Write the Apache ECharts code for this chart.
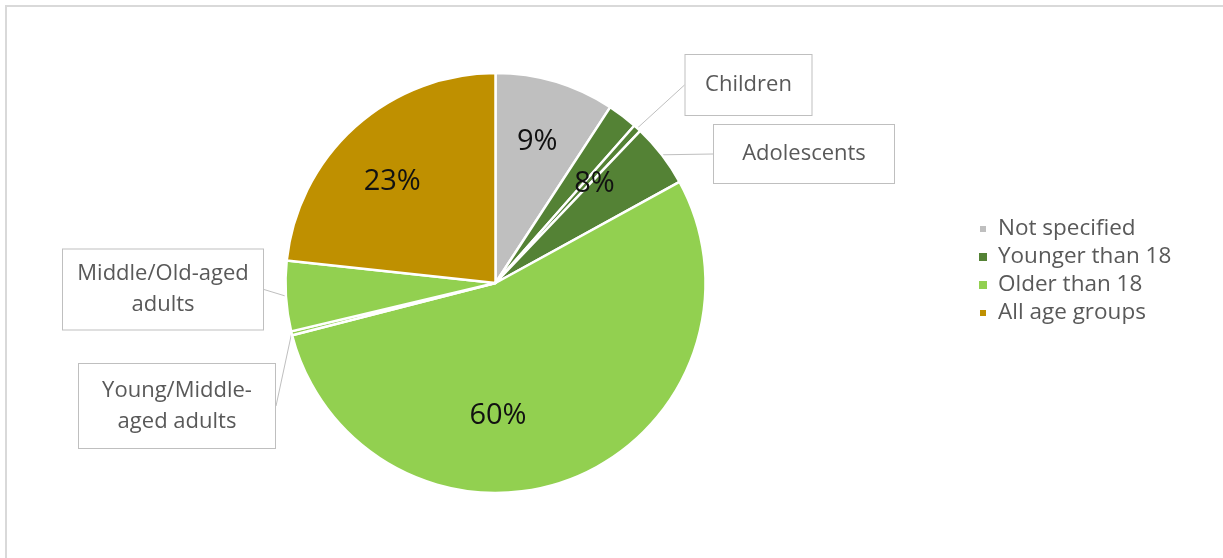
<!DOCTYPE html>
<html>
<head>
<meta charset="utf-8">
<script src="https://cdn.jsdelivr.net/npm/echarts@6/dist/echarts.min.js"></script>
<style>
  html, body { margin: 0; padding: 0; background: #fff; }
  #chart { width: 1223px; height: 558px; }
</style>
</head>
<body>
<div id="chart"></div>
<script>
// ---- data ----
const groupNames = ['Not specified', 'Younger than 18', 'Older than 18', 'All age groups'];
const subNames = ['Not specified', 'Younger than 18 (unspecified)', 'Children', 'Adolescents',
                  'Older than 18 (unspecified)', 'Young/Middle-aged adults', 'Middle/Old-aged adults', 'All age groups'];
const subValues = [9.2, 2.3, 0.6, 4.9, 54.0, 0.3, 5.4, 23.3];
const subGroup = [0, 1, 1, 1, 2, 2, 2, 3];
const calloutNames = ['Children', 'Adolescents', 'Middle/Old-aged adults', 'Young/Middle-aged adults'];
const calloutTexts = ['Children', 'Adolescents', 'Middle/Old-aged\nadults', 'Young/Middle-\naged adults'];

// ---- styles ----
const groupColors = ['#BFBFBF', '#548235', '#92D050', '#BF9000'];
const FONT = "'Open Sans', 'Noto Sans', sans-serif";
const calloutStyle = {
  'Children':                 { x: 748.5, y: 85,    width: 126, pad: 17 },
  'Adolescents':              { x: 804,   y: 154,   width: 180, pad: 16 },
  'Middle/Old-aged adults':   { x: 163,   y: 289.5, width: 200, pad: 9 },
  'Young/Middle-aged adults': { x: 177,   y: 406,   width: 196, pad: 11 }
};
const groupLabelOffset = {
  'Not specified': [-1, 3],
  'Younger than 18': [-11, 3],
  'Older than 18': [-27, -14],
  'All age groups': [-3, 10]
};

const groupValues = groupNames.map((_, g) =>
  subValues.reduce((s, v, i) => s + (subGroup[i] === g ? v : 0), 0));

const CENTER = [495.5, 283];
const R = 210;

const subData = subNames.map((n, i) => {
  const ci = calloutNames.indexOf(n);
  const item = {
    name: n,
    value: subValues[i],
    itemStyle: { color: groupColors[subGroup[i]] }
  };
  if (ci >= 0) {
    const cs = calloutStyle[n];
    item.label = {
      show: true,
      formatter: calloutTexts[ci],
      width: cs.width,
      padding: [cs.pad, 0],
      lineHeight: ci >= 2 ? 31 : 26
    };
    item.labelLine = { show: true };
  } else {
    item.label = { show: false };
    item.labelLine = { show: false };
  }
  return item;
});

const groupData = groupNames.map((n, i) => {
  const item = {
    name: n,
    value: groupValues[i],
    itemStyle: { color: 'rgba(0,0,0,0)' }
  };
  if (groupLabelOffset[n]) item.label = { offset: groupLabelOffset[n] };
  return item;
});

const chart = echarts.init(document.getElementById('chart'), null, { renderer: 'canvas' });
chart.setOption({
  backgroundColor: '#fff',
  animation: false,
  graphic: [{
    type: 'rect',
    shape: { x: 6, y: 6, width: 1400, height: 800 },
    style: { fill: 'none', stroke: '#D9D9D9', lineWidth: 2 },
    silent: true,
    z: -10
  }],
  legend: {
    orient: 'vertical',
    left: 973,
    top: 212,
    icon: 'rect',
    itemWidth: 8,
    itemHeight: 8,
    itemGap: 4,
    selectedMode: false,
    textStyle: { fontFamily: FONT, fontSize: 22.5, color: '#595959', lineHeight: 24, padding: [0, 0, 0, 6] },
    data: groupNames.map((n, i) => ({ name: n, itemStyle: { color: groupColors[i], opacity: 1 } }))
  },
  series: [
    {
      type: 'pie',
      name: 'detail',
      z: 2,
      center: CENTER,
      radius: [0, R],
      startAngle: 90,
      clockwise: true,
      avoidLabelOverlap: false,
      silent: true,
      itemStyle: { borderColor: '#fff', borderWidth: 2.5 },
      label: {
        position: 'outside',
        fontFamily: FONT,
        fontSize: 22,
        color: '#595959',
        backgroundColor: '#fff',
        borderColor: '#BFBFBF',
        borderWidth: 1,
        align: 'center'
      },
      labelLine: {
        length: 0,
        length2: 0,
        smooth: false,
        lineStyle: { color: '#BFBFBF', width: 1 }
      },
      labelLayout: function (params) {
        const n = subNames[params.dataIndex];
        const cs = calloutStyle[n];
        if (!cs) return;
        return { x: cs.x, y: cs.y, align: 'center', verticalAlign: 'middle' };
      },
      emphasis: { disabled: true },
      data: subData
    },
    {
      type: 'pie',
      name: 'groups',
      z: 3,
      center: CENTER,
      radius: [84, R],
      startAngle: 90,
      clockwise: true,
      avoidLabelOverlap: false,
      silent: true,
      itemStyle: { borderWidth: 0 },
      label: {
        show: true,
        position: 'inside',
        fontFamily: FONT,
        fontSize: 29,
        color: '#111',
        formatter: p => Math.round(p.percent) + '%'
      },
      labelLine: { show: false },
      emphasis: { disabled: true },
      data: groupData
    }
  ]
});
</script>
</body>
</html>
